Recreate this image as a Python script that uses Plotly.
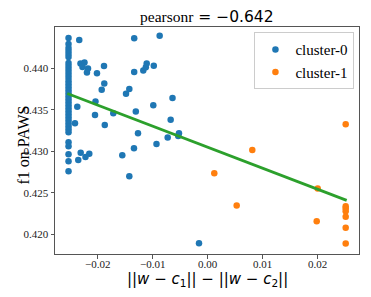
import plotly.graph_objects as go

# cluster-0 (blue)
c0_x = [-0.0253] * 35 + [
    -0.02335, -0.01336, -0.00873, -0.02313, -0.02240, -0.02276, -0.02176, -0.02195,
    -0.02013, -0.01885, -0.01336, -0.01171, -0.01125, -0.01109, -0.00980, -0.01880,
    -0.01927, -0.01425, -0.01485, -0.00640, -0.02040, -0.02371, -0.00989, -0.01307,
    -0.01716, -0.02049, -0.01871, -0.00673, -0.02413, -0.01267, -0.00522, -0.00535,
    -0.00727, -0.00931, -0.01340, -0.02309, -0.02153, -0.02222, -0.02353, -0.01553,
    -0.01425, -0.00158]
c0_y = [
    0.44361, 0.44289, 0.44241, 0.44205, 0.44169, 0.44133, 0.44060, 0.44024, 0.43988,
    0.43952, 0.43916, 0.43880, 0.43843, 0.43807, 0.43771, 0.43735, 0.43699, 0.43663,
    0.43627, 0.43590, 0.43554, 0.43518, 0.43482, 0.43446, 0.43410, 0.43373, 0.43337,
    0.43301, 0.43265, 0.43229, 0.43108, 0.43060, 0.42964, 0.42880, 0.42759,
    0.44337, 0.44358, 0.44388, 0.44054, 0.44066, 0.44012, 0.43994, 0.43946,
    0.43937, 0.44024, 0.43952, 0.43972, 0.44010, 0.44054, 0.44028, 0.43816,
    0.43741, 0.43749, 0.43693, 0.43642, 0.43600, 0.43536, 0.43554, 0.43478,
    0.43458, 0.43437, 0.43317, 0.43380, 0.43337, 0.43217, 0.43217, 0.43184,
    0.43166, 0.43088, 0.43036, 0.42984, 0.42972, 0.42931, 0.42895, 0.42952,
    0.42699, 0.41895]

# cluster-1 (orange)
c1_x = [0.02509, 0.00811, 0.00120, 0.02000, 0.00527, 0.02509, 0.02509, 0.02509,
        0.02509, 0.01982, 0.02509, 0.02509]
c1_y = [0.43325, 0.43016, 0.42735, 0.42554, 0.42349, 0.42341, 0.42313, 0.42281,
        0.42213, 0.42160, 0.42081, 0.41892]

# regression line endpoints
fit_x = [-0.02553, 0.02527]
fit_y = [0.43695, 0.42410]

x_ticks = [-0.02, -0.01, 0.0, 0.01, 0.02]
y_ticks = [0.420, 0.425, 0.430, 0.435, 0.440, 0.445]

title_text = "pearsonr<span style=\"font-family:'DejaVu Sans'\"> = −0.642</span>"
x_label = "||<i>w</i> − <i>c</i><sub>1</sub>|| − ||<i>w</i> − <i>c</i><sub>2</sub>||"
y_label = "f1 on PAWS"

SERIF = "Liberation Serif, Times New Roman, serif"
SANS = "DejaVu Sans"

fig = go.Figure()
fig.add_trace(go.Scatter(x=c0_x, y=c0_y, mode="markers", name="cluster-0",
                         marker=dict(color="#1f77b4", size=6.5)))
fig.add_trace(go.Scatter(x=c1_x, y=c1_y, mode="markers", name="cluster-1",
                         marker=dict(color="#ff7f0e", size=6.5)))
fig.add_trace(go.Scatter(x=fit_x, y=fit_y, mode="lines", showlegend=False,
                         line=dict(color="#2ca02c", width=2.8)))

axis_common = dict(showline=True, linecolor="#555", linewidth=1, mirror=True,
                   ticks="outside", ticklen=3.5, tickcolor="#555", showgrid=False,
                   zeroline=False, automargin=False,
                   tickfont=dict(family=SERIF, size=11, color="#222"))

fig.update_layout(
    template="none",
    width=363, height=289,
    margin=dict(l=47, r=12, t=19, b=43, pad=0),
    paper_bgcolor="white", plot_bgcolor="white",
    xaxis=dict(range=[-0.02776, 0.02751], tickvals=x_ticks, tickformat=".2f",
               ticklabelstandoff=-4, **axis_common),
    yaxis=dict(range=[0.41766, 0.44494], tickvals=y_ticks, tickformat=".3f", **axis_common),
    legend=dict(x=0.985, y=0.977, xanchor="right", yanchor="top", tracegroupgap=0,
                bgcolor="rgba(255,255,255,0.8)", bordercolor="#ccc", borderwidth=1,
                font=dict(family=SERIF, size=15, color="black"), itemwidth=30),
    showlegend=True,
    annotations=[
        dict(text=title_text, xref="paper", yref="paper", x=0.5, y=1.044,
             xanchor="center", yanchor="middle", showarrow=False,
             font=dict(family=SERIF, size=15.5, color="black")),
        dict(text=x_label, xref="paper", yref="paper", x=0.5, y=-0.1145,
             xanchor="center", yanchor="middle", showarrow=False,
             font=dict(family=SANS, size=15, color="black")),
        dict(text=y_label, xref="paper", yref="paper", x=-0.1036, y=0.480,
             xanchor="center", yanchor="middle", showarrow=False, textangle=-90,
             font=dict(family=SERIF, size=16, color="black")),
    ],
)

fig.write_html("out.html")
